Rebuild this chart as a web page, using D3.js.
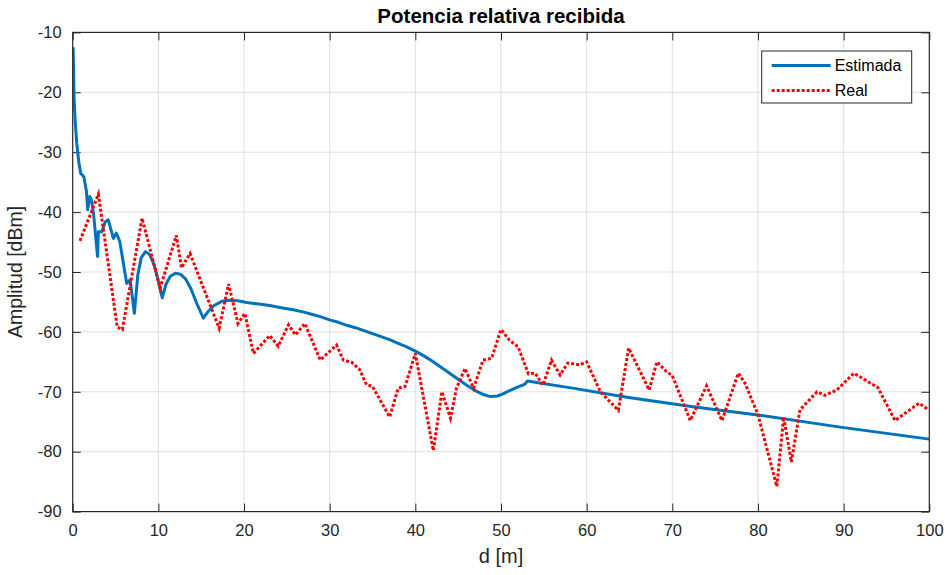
<!DOCTYPE html>
<html>
<head>
<meta charset="utf-8">
<script src="https://cdn.jsdelivr.net/npm/d3@7"></script>
<style>
  body { margin: 0; background: #fff; }
  svg text { font-family: "Liberation Sans", Arial, sans-serif; fill: #262626; }
</style>
</head>
<body>
<div id="chart"></div>
<script>
// distance [m] and amplitude [dBm]
var estD = [0.05, 0.1, 0.15, 0.3, 0.47, 0.7, 0.93, 1.3, 1.6, 1.75, 2.0, 2.2, 2.45, 2.9, 3.0, 3.4, 3.8, 4.15,
    4.75, 5.1, 5.5, 6.3, 6.7, 7.2, 7.6, 8.0, 8.5, 9.0, 9.5, 10.0, 10.45, 10.9, 11.4, 12.0, 12.6, 13.2, 13.8,
    14.5, 15.25, 15.8, 16.5, 17.4, 18.3, 19.3, 20.3, 21.5, 23, 24.5, 25.75, 27, 28, 29, 30, 31, 32, 33, 34,
    35, 36, 37, 38, 39, 40, 41, 42, 43, 44, 45, 46, 47, 48, 48.8, 49.6, 50.3, 51, 51.8, 52.8, 53.1, 54.9, 58,
    64.7, 72.4, 80.2, 89.6, 100];
var estA = [-12.5, -16, -20.7, -25, -28.5, -31.5, -33.5, -34.1, -36.5, -39.6, -37.4, -38.0, -40.5, -47.4, -43.3, -43.3, -41.6, -41.3,
    -44.4, -43.5, -44.9, -51.9, -51.3, -56.9, -50.5, -47.6, -46.6, -47.1, -48.8, -51.5, -54.3, -52.0, -50.7, -50.2, -50.4, -51.2, -52.8,
    -55.3, -57.7, -56.6, -55.6, -54.9, -54.7, -54.8, -55.1, -55.3, -55.6, -56.0, -56.3, -56.7, -57.1, -57.5, -58.0, -58.4, -58.9, -59.3, -59.8,
    -60.3, -60.8, -61.3, -61.9, -62.5, -63.2, -64.0, -64.9, -65.9, -66.9, -67.9, -68.9, -69.8, -70.5, -70.8, -70.7, -70.3, -69.8, -69.3, -68.7, -68.2, -68.6, -69.3,
    -70.9, -72.5, -73.9, -75.9, -77.9];

var realD = [0.85, 3.0, 5.2, 5.8, 8.1, 10.2, 12.1, 12.7, 13.7, 17.1, 18.2, 19.3, 20.1, 21.1, 23.0, 24.0, 25.2,
    26.0, 27.1, 28.9, 30.8, 31.6, 32.6, 33.5, 34.3, 35.0, 37.0, 38.0, 38.8, 40.0, 42.1, 43.1, 44.1, 44.8,
    45.8, 46.8, 47.9, 48.9, 50.0, 51.0, 52.0, 53.2, 54.0, 54.9, 55.9, 56.9, 57.8, 59.2, 60.0, 61.6, 63.7,
    64.9, 67.3, 68.2, 69.3, 70.0, 72.1, 74.0, 75.8, 77.7, 78.5, 80.0, 82.2, 83.0, 83.9, 84.9, 86.9, 87.8,
    89.2, 91.2, 94.0, 96.0, 98.8, 99.9];
var realA = [-44.8, -37.0, -59.2, -59.6, -41.0, -52.7, -43.9, -49.3, -46.9, -59.4, -52.0, -58.6, -56.9, -63.6, -60.6, -62.4, -58.8,
    -60.5, -58.6, -64.7, -62.2, -64.7, -65.1, -66.3, -68.8, -69.1, -74.2, -69.4, -69.1, -63.6, -79.8, -70.0, -74.4, -69.4,
    -66.1, -69.4, -64.7, -64.4, -59.6, -61.4, -62.5, -67.0, -66.9, -68.9, -64.7, -67.2, -65.2, -65.5, -65.0, -70.0, -73.1,
    -62.7, -69.7, -65.0, -66.6, -67.3, -74.8, -69.0, -74.8, -66.9, -68.6, -73.8, -85.8, -74.2, -81.7, -73.0, -70.0, -70.6,
    -69.7, -66.9, -69.3, -74.8, -71.9, -73.0];

var xTicks = [0, 10, 20, 30, 40, 50, 60, 70, 80, 90, 100];
var yTicks = [-90, -80, -70, -60, -50, -40, -30, -20, -10];
var seriesNames = ["Estimada", "Real"];

var W = 946, H = 575;
var margin = {top: 32.4, right: 16.7, bottom: 63.4, left: 72.7},
    width = W - margin.left - margin.right,
    height = H - margin.top - margin.bottom;

var svg = d3.select("#chart")
    .append("svg")
        .attr("width", W)
        .attr("height", H)
    .append("g")
        .attr("transform", "translate(" + margin.left + "," + margin.top + ")");

var x = d3.scaleLinear().domain([0, 100]).range([0, width]);
var y = d3.scaleLinear().domain([-90, -10]).range([height, 0]);

// grid
svg.append("g")
    .selectAll("line.gx")
    .data(xTicks.slice(1, -1))
    .enter().append("line")
        .attr("x1", d => x(d)).attr("x2", d => x(d))
        .attr("y1", 0).attr("y2", height)
        .style("stroke", "#dfdfdf").style("stroke-width", 1);
svg.append("g")
    .selectAll("line.gy")
    .data(yTicks.slice(1, -1))
    .enter().append("line")
        .attr("x1", 0).attr("x2", width)
        .attr("y1", d => y(d)).attr("y2", d => y(d))
        .style("stroke", "#dfdfdf").style("stroke-width", 1);

// axes, ticks pointing inwards, plain hyphen for negatives
var fmt = d => String(d);
var xAxis = svg.append("g")
    .attr("transform", "translate(0," + height + ")")
    .call(d3.axisBottom(x).tickValues(xTicks).tickFormat(fmt).tickSizeInner(-8).tickSizeOuter(0).tickPadding(13));
var yAxis = svg.append("g")
    .call(d3.axisLeft(y).tickValues(yTicks).tickFormat(fmt).tickSizeInner(-8).tickSizeOuter(0).tickPadding(11));
var xTop = svg.append("g")
    .call(d3.axisTop(x).tickValues(xTicks).tickSizeInner(-8).tickSizeOuter(0).tickFormat(""));
var yRight = svg.append("g")
    .attr("transform", "translate(" + width + ",0)")
    .call(d3.axisRight(y).tickValues(yTicks).tickSizeInner(-8).tickSizeOuter(0).tickFormat(""));

[xAxis, yAxis, xTop, yRight].forEach(function(a) {
    a.select(".domain").remove();
    a.selectAll(".tick line").style("stroke", "#262626");
    a.selectAll(".tick text").style("font-size", "16.5px").style("fill", "#262626");
});

// data lines
var line = d3.line()
    .x(d => x(d[0]))
    .y(d => y(d[1]));

var estData = estD.map((d, i) => [d, estA[i]]);
var realData = realD.map((d, i) => [d, realA[i]]);

var clip = svg.append("clipPath").attr("id", "clip")
    .append("rect").attr("width", width).attr("height", height);

svg.append("path")
    .datum(estData)
    .attr("clip-path", "url(#clip)")
    .attr("d", line)
    .style("fill", "none")
    .style("stroke", "#0072BD")
    .style("stroke-width", 3)
    .style("stroke-linejoin", "round");

svg.append("path")
    .datum(realData)
    .attr("clip-path", "url(#clip)")
    .attr("d", line)
    .style("fill", "none")
    .style("stroke", "#ff0000")
    .style("stroke-width", 3)
    .style("stroke-dasharray", "3,2");

// frame
svg.append("rect")
    .attr("width", width).attr("height", height)
    .style("fill", "none").style("stroke", "#262626").style("stroke-width", 1.2);

// title and labels
svg.append("text")
    .attr("x", width / 2).attr("y", -9)
    .attr("text-anchor", "middle")
    .style("font-size", "20.5px").style("font-weight", "bold").style("fill", "#000")
    .text("Potencia relativa recibida");

svg.append("text")
    .attr("x", width / 2).attr("y", height + 51)
    .attr("text-anchor", "middle")
    .style("font-size", "20px")
    .text("d [m]");

svg.append("text")
    .attr("transform", "translate(" + (-51) + "," + (height / 2) + ") rotate(-90)")
    .attr("text-anchor", "middle")
    .style("font-size", "19.5px")
    .text("Amplitud [dBm]");

// legend
var lg = svg.append("g").attr("transform", "translate(" + (761.7 - margin.left) + "," + (51 - margin.top) + ")");
lg.append("rect")
    .attr("width", 150).attr("height", 52)
    .style("fill", "#fff").style("stroke", "#262626").style("stroke-width", 1);
var styles = [{c: "#0072BD", dash: null}, {c: "#ff0000", dash: "3,2"}];
seriesNames.forEach(function(name, i) {
    var yy = 14.5 + i * 25;
    lg.append("line")
        .attr("x1", 10).attr("x2", 69).attr("y1", yy).attr("y2", yy)
        .style("stroke", styles[i].c).style("stroke-width", 3)
        .style("stroke-dasharray", styles[i].dash);
    lg.append("text")
        .attr("x", 73).attr("y", yy + 5.5)
        .style("font-size", "16px").style("fill", "#000")
        .text(name);
});
</script>
</body>
</html>
